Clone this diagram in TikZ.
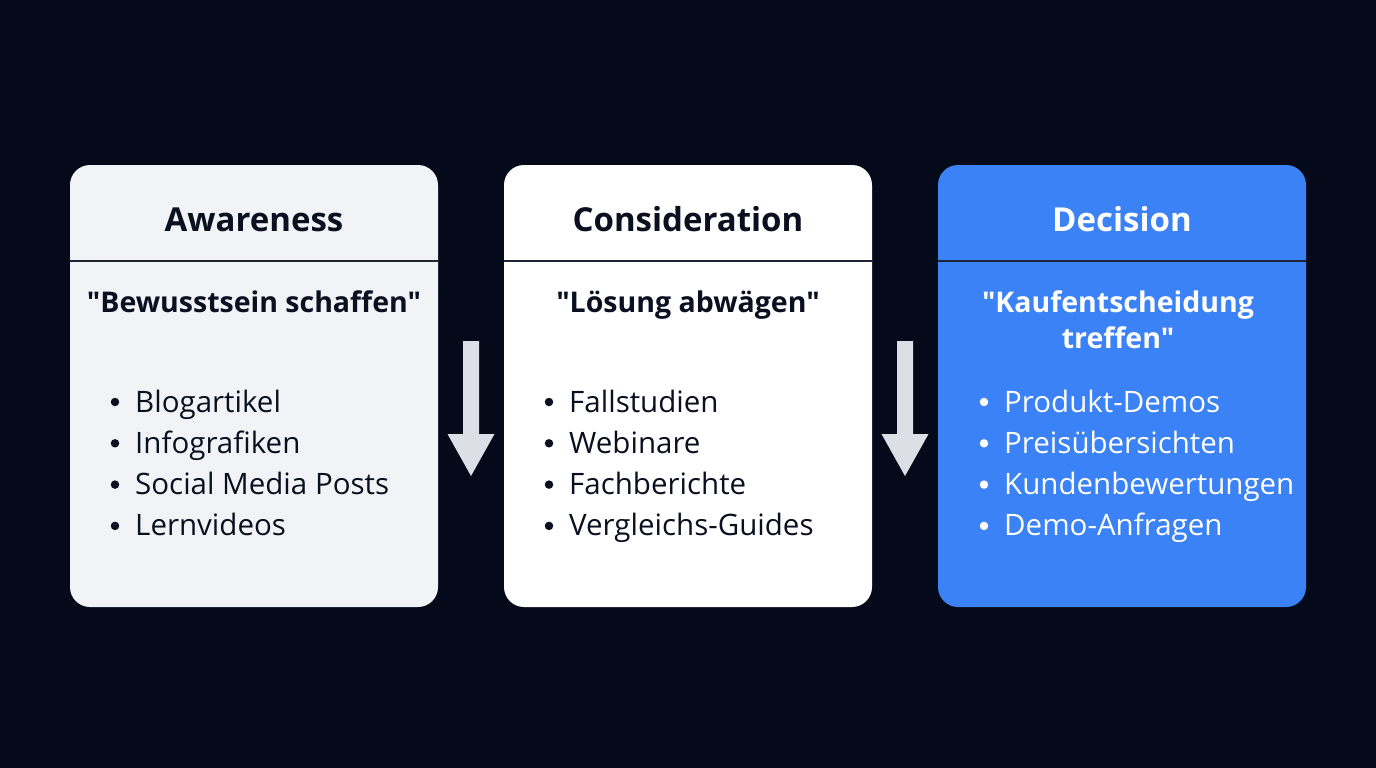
\documentclass[tikz,border=0pt]{standalone}
\usepackage{fontspec}
\setmainfont{Open Sans}[Ligatures=TeXOff]
\definecolor{bg}{HTML}{050A1A}
\definecolor{boxA}{HTML}{F1F3F6}
\definecolor{boxB}{HTML}{FFFFFF}
\definecolor{boxC}{HTML}{3B82F6}
\definecolor{ink}{HTML}{0B1020}
\definecolor{arr}{HTML}{DCDFE5}
\definecolor{divl}{HTML}{1E2535}
\begin{document}
\begin{tikzpicture}[x=1pt,y=-1pt,
  card/.style={rounded corners=20pt},
  ttl/.style={anchor=base,font=\fontsize{33}{36}\selectfont\bfseries,inner sep=0pt},
  sub/.style={anchor=base,font=\fontsize{28.5}{36}\selectfont\bfseries,inner sep=0pt},
  itm/.style={anchor=base west,font=\fontsize{29.5}{36}\selectfont,inner sep=0pt},
  dot/.style={circle,inner sep=0pt,minimum size=8.5pt},
  flowarrow/.style={fill=arr}
]
\fill[bg] (0,0) rectangle (1376,768);
\useasboundingbox (0,0) rectangle (1376,768);

% cards
\fill[boxA,card] (70,165) rectangle (438,607);
\fill[boxB,card] (504,165) rectangle (872,607);
\fill[boxC,card] (938,165) rectangle (1306,607);
\foreach \x in {70,504,938}{
  \draw[divl,line width=1.8pt] (\x,261) -- ++(368,0);
}

% titles
\node[ttl,text=ink] (t1) at (254,231) {Awareness};
\node[ttl,text=ink] (t2) at (688,231) {Consideration};
\node[ttl,text=white] (t3) at (1122,231) {Decision};

% subtitles
\node[sub,text=ink] (s1) at (254,312) {"Bewusstsein schaffen"};
\node[sub,text=ink] (s2) at (688,312) {"Lösung abwägen"};
\node[sub,text=white] (s3a) at (1118,312) {"Kaufentscheidung};
\node[sub,text=white] (s3b) at (1118,348) {treffen"};

% items
\foreach \t [count=\i] in {Blogartikel,Infografiken,Social Media Posts,Lernvideos}{
  \pgfmathsetmacro\yy{412+41.3*(\i-1)}
  \node[dot,fill=ink] (a\i d) at (115,\yy-10) {};
  \node[itm,text=ink] (a\i) at (135,\yy) {\t};
}
\foreach \t [count=\i] in {Fallstudien,Webinare,Fachberichte,Vergleichs-Guides}{
  \pgfmathsetmacro\yy{412+41.3*(\i-1)}
  \node[dot,fill=ink] (b\i d) at (549,\yy-10) {};
  \node[itm,text=ink] (b\i) at (569,\yy) {\t};
}
\foreach \t [count=\i] in {Produkt-Demos,Preisübersichten,Kundenbewertungen,Demo-Anfragen}{
  \pgfmathsetmacro\yy{412+41.3*(\i-1)}
  \node[dot,fill=white] (c\i d) at (984,\yy-10) {};
  \node[itm,text=white] (c\i) at (1004,\yy) {\t};
}

% arrows
\fill[flowarrow] (463,341) -- (479,341) -- (479,434) -- (494.5,434) -- (471,476) -- (447.5,434) -- (463,434) -- cycle;
\fill[flowarrow] (897,341) -- (913,341) -- (913,434) -- (928.5,434) -- (905,476) -- (881.5,434) -- (897,434) -- cycle;
\end{tikzpicture}
\end{document}
